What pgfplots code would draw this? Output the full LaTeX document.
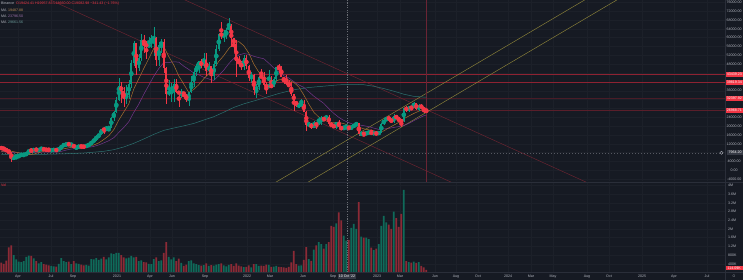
\documentclass[border=0pt]{standalone}
\usepackage{fontspec}
\setmainfont{Liberation Sans}
\usepackage{pgfplots}
\pgfplotsset{compat=1.18}
\usepackage{pgfplotstable}
\definecolor{bg}{HTML}{161A23}
\definecolor{gridc}{HTML}{1C2029}
\definecolor{sep}{HTML}{2A2E39}
\definecolor{txt}{HTML}{B2B5BE}
\definecolor{upc}{HTML}{089981}
\definecolor{dnc}{HTML}{F23645}
\definecolor{vup}{HTML}{0F6B5A}
\definecolor{vdn}{HTML}{8C2A36}
\definecolor{maO}{HTML}{A8702E}
\definecolor{maP}{HTML}{74358A}
\definecolor{maT}{HTML}{2B716F}
\definecolor{hred}{HTML}{8E2232}
\definecolor{hband}{HTML}{4A1C27}
\definecolor{hdark}{HTML}{5A1E2A}
\definecolor{tred}{HTML}{6E2431}
\definecolor{yel}{HTML}{8E853A}
\definecolor{vline}{HTML}{6A2434}
\definecolor{lblred}{HTML}{F23645}
\definecolor{lblgray}{HTML}{363A45}

% w open high low close volume(K)  -- price in thousands USDT
\pgfplotstableread[row sep=\\]{
w o h l c v\\
5 5.36 6.90 4.44 5.82 800\\ 6 5.82 6.98 5.70 5.88 600\\ 7 5.88 7.30 5.85 6.78 500\\
8 6.78 7.47 6.65 7.10 480\\ 9 7.10 7.30 6.47 7.12 520\\ 10 7.12 7.78 6.80 7.70 720\\
11 7.70 9.47 7.65 8.90 780\\ 13 8.72 9.95 8.10 9.68 650\\ 15 8.90 9.74 8.63 9.45 420\\
16 9.45 10.43 9.20 9.66 480\\ 20 9.01 9.30 8.90 9.07 300\\ 21 9.07 9.46 9.05 9.23 280\\
23 9.16 10.00 9.04 9.70 400\\ 24 9.70 11.40 9.40 11.10 660\\ 25 11.10 11.90 10.90 11.69 520\\
26 11.69 12.08 11.15 11.85 480\\ 28 11.64 11.80 11.10 11.70 380\\ 30 10.25 10.58 9.88 10.32 420\\
31 10.32 11.18 10.20 11.08 400\\ 34 10.66 11.50 10.53 11.37 350\\ 35 11.37 11.72 11.22 11.50 320\\
36 11.50 13.35 11.41 13.03 620\\ 37 13.03 14.10 12.79 13.80 600\\ 38 13.80 15.96 13.20 15.48 660\\
39 15.48 16.48 14.80 16.00 580\\ 40 16.00 18.80 15.80 18.70 640\\ 42 18.18 19.90 18.00 19.15 600\\
43 19.15 19.42 17.60 19.28 700\\ 44 19.28 24.30 19.00 23.75 880\\ 45 23.75 26.80 22.40 26.48 850\\
46 26.48 33.30 26.00 32.00 900\\ 47 32.00 41.95 31.50 38.15 900\\ 50 32.28 38.55 29.90 34.27 650\\
51 34.27 40.95 32.30 39.25 680\\ 52 39.25 49.70 37.40 48.58 760\\ 53 48.58 58.35 47.00 57.40 700\\
55 46.10 52.65 45.00 50.97 520\\ 56 50.97 61.80 49.30 59.00 560\\ 59 55.80 60.20 55.60 57.00 400\\
60 57.00 61.20 55.50 59.70 380\\ 61 59.70 64.85 51.50 60.00 620\\ 63 50.10 57.90 47.10 56.60 520\\
64 56.60 59.60 53.00 58.25 560\\ 67 34.70 40.85 33.40 35.60 720\\ 68 35.60 39.45 31.10 35.80 600\\
69 35.80 41.30 31.00 39.00 700\\ 72 34.70 36.65 32.70 35.30 440\\ 75 31.78 35.40 29.30 35.40 520\\
76 35.40 42.60 35.20 39.85 560\\ 77 39.85 44.80 37.60 44.40 420\\ 78 44.40 48.10 42.80 47.00 380\\
79 47.00 49.40 43.90 49.30 340\\ 81 47.10 52.90 46.50 49.90 340\\ 83 45.00 48.85 43.30 47.30 300\\
85 42.70 49.30 40.70 48.20 320\\ 86 48.20 56.60 47.00 54.95 360\\ 87 54.95 62.00 53.80 61.50 380\\
89 61.30 63.70 58.00 61.30 330\\ 90 61.30 64.30 59.40 63.30 280\\ 91 63.30 69.00 62.30 65.50 350\\
97 46.70 52.00 45.60 50.80 250\\ 100 41.80 44.50 39.60 43.10 240\\ 102 36.30 38.90 32.90 37.90 380\\
103 37.90 42.70 36.20 42.40 300\\ 107 37.70 45.40 37.50 38.40 350\\ 109 37.80 42.30 37.60 41.30 270\\
110 41.30 46.90 40.50 46.80 300\\ 119 29.45 30.60 28.00 29.45 320\\ 120 29.45 32.40 29.30 29.90 330\\
123 20.55 21.90 19.60 21.00 620\\ 125 19.30 22.50 19.00 20.85 1050\\ 127 20.80 24.30 20.70 22.60 1400\\
128 22.60 24.70 20.70 23.30 1300\\ 130 23.20 25.20 22.70 24.30 1300\\ 134 19.80 21.80 18.50 21.80 2260\\
137 18.80 20.20 18.50 19.30 1700\\ 138 19.30 20.50 19.10 19.40 1460\\ 140 19.05 19.70 18.90 19.57 2050\\
141 19.57 21.00 19.25 20.60 2230\\ 142 20.60 21.50 20.00 21.30 2000\\ 144 16.30 17.20 16.00 16.70 1650\\
146 16.45 17.40 16.00 17.10 1600\\ 147 17.10 17.40 16.70 17.10 1540\\ 149 16.75 17.00 16.50 16.85 1030\\
151 16.55 17.20 16.50 17.10 1300\\ 152 17.10 21.20 17.10 20.90 2140\\ 153 20.90 23.40 20.40 22.70 2600\\
154 22.70 23.80 22.30 23.75 2300\\ 157 21.80 25.25 21.35 24.60 2800\\ 161 22.15 28.40 21.90 28.00 3800\\
163 27.50 29.20 26.50 28.45 480\\ 165 28.30 31.00 28.20 30.30 500\\ 167 27.60 30.00 26.95 29.25 480\\
}\upt

\pgfplotstableread[row sep=\\]{
w o h l c v\\
0 10.15 10.50 9.70 9.90 450\\ 1 9.90 10.25 9.30 9.66 400\\ 2 9.66 9.96 8.40 8.53 550\\
3 8.53 9.19 8.00 8.03 1150\\ 4 8.03 8.18 3.80 5.36 1250\\ 12 8.90 10.00 8.13 8.72 760\\
14 9.68 9.90 8.80 8.90 520\\ 17 9.66 9.98 9.22 9.34 380\\ 18 9.34 9.59 8.90 9.30 360\\
19 9.30 9.79 8.93 9.01 330\\ 22 9.23 9.32 9.00 9.16 270\\ 27 11.85 12.47 11.33 11.64 500\\
29 11.70 12.09 9.80 10.25 520\\ 32 11.08 11.10 10.14 10.72 360\\ 33 10.72 10.95 10.37 10.66 330\\
41 18.70 19.48 16.20 18.18 720\\ 48 38.15 40.10 30.40 35.80 800\\ 49 35.80 37.85 28.80 32.28 700\\
54 57.40 57.50 43.00 46.10 720\\ 57 59.00 61.20 53.30 57.35 480\\ 58 57.35 58.40 50.30 55.80 460\\
62 60.00 60.40 47.00 50.10 700\\ 65 58.25 59.50 43.80 46.40 900\\ 66 46.40 46.60 30.00 34.70 1400\\
70 39.00 41.30 34.80 35.60 520\\ 71 35.60 36.10 28.80 34.70 640\\ 73 35.30 35.40 32.70 34.25 300\\
74 34.25 34.60 31.00 31.78 360\\ 80 49.30 50.50 46.30 47.10 320\\ 82 49.90 52.90 42.80 45.00 420\\
84 47.30 47.40 39.60 42.70 340\\ 88 61.50 67.00 59.60 61.30 420\\ 92 65.50 66.30 55.60 59.70 380\\
93 59.70 59.80 53.50 57.20 300\\ 94 57.20 59.10 42.00 49.40 420\\ 95 49.40 51.90 47.00 48.40 320\\
96 48.40 49.50 45.50 46.70 280\\ 98 50.80 52.10 45.70 47.30 260\\ 99 47.30 47.60 40.50 41.80 330\\
101 43.10 43.50 34.00 36.30 380\\ 104 42.40 45.85 41.70 42.20 320\\ 105 42.20 44.70 38.00 38.40 300\\
106 38.40 39.80 34.30 37.70 360\\ 108 38.40 42.60 37.20 37.80 260\\ 111 46.80 48.20 44.20 46.40 260\\
112 46.40 47.30 42.10 42.15 250\\ 113 42.15 42.40 39.20 40.40 240\\ 114 40.40 42.90 38.60 39.45 210\\
115 39.45 40.80 37.60 37.65 260\\ 116 37.65 39.90 33.70 34.30 460\\ 117 34.30 34.50 26.70 31.30 990\\
118 31.30 31.30 28.60 29.45 380\\ 121 29.90 31.70 26.60 26.60 580\\ 122 26.60 26.90 17.60 20.55 1170\\
124 21.00 21.50 18.60 19.30 540\\ 126 20.85 21.60 18.90 20.80 1250\\ 129 23.30 23.65 22.40 23.20 1100\\
131 24.30 25.10 20.80 21.15 1400\\ 132 21.15 21.80 19.50 20.05 2140\\ 133 20.05 20.60 19.60 19.80 2100\\
135 21.80 22.80 19.30 19.40 2770\\ 136 19.40 19.95 18.10 18.80 2400\\ 139 19.40 19.95 18.20 19.05 1500\\
143 21.30 21.45 15.60 16.30 3240\\ 145 16.70 16.80 15.50 16.45 1600\\ 148 17.10 18.40 16.50 16.75 1140\\
150 16.85 16.95 16.30 16.55 1100\\ 155 23.75 24.25 22.50 23.30 2200\\ 156 23.30 23.40 21.40 21.80 2000\\
158 24.60 25.00 23.10 23.55 2500\\ 159 23.55 23.90 21.90 22.40 2100\\ 160 22.40 22.60 19.55 22.15 2700\\
162 28.00 28.90 26.60 27.50 520\\ 164 28.45 28.80 27.20 28.30 450\\ 166 30.30 30.50 27.10 27.60 440\\
168 29.25 29.80 27.70 28.45 300\\ 169 28.45 28.60 25.80 26.90 230\\ 170 26.90 27.65 26.50 26.75 115\\
}\dnt

\newcommand{\fs}{\fontsize{3.6}{4}\selectfont}

\begin{document}
\begin{tikzpicture}
\useasboundingbox (0pt,0pt) rectangle (743pt,280pt);
\fill[bg] (0pt,0pt) rectangle (743pt,280pt);

% ---------------- price panel ----------------
\begin{axis}[
  at={(0pt,280pt)}, anchor=north west, scale only axis,
  width=725pt, height=181.5pt,
  xmin=-0.52, xmax=289.48, ymin=-5.07, ymax=77.06,
  axis line style={draw=none}, tick style={draw=none},
  xtick={6.7,19.9,28.7,46.3,59.5,68.3,81.5,98.3,107.5,120.7,132.7,150.3,159.5,173.5,181.9,190.7,202.7,211.9,220.7,234.3,243.1,256.3,269.1,282.3},
  ytick={-4,0,4,...,76},
  xticklabels={}, yticklabels={},
  grid=major, major grid style={draw=gridc, line width=0.4pt},
  clip mode=individual,
]
% horizontal levels
\addplot[hband, line width=1.5pt] coordinates {(-1,32.40) (290,32.40)};
\addplot[hred, line width=0.4pt] coordinates {(-1,43.44) (290,43.44)};
\addplot[hred, line width=0.4pt] coordinates {(-1,39.82) (290,39.82)};
\addplot[hdark, line width=0.4pt] coordinates {(-1,26.97) (290,26.97)};
\addplot[sep!80!white, line width=0.4pt, dash pattern=on 1.5pt off 1.5pt] coordinates {(-1,7.96) (290,7.96)};
% trend lines
\addplot[tred, line width=0.45pt] coordinates {(59.48,84.25) (255.48,-16.43)};
\addplot[tred, line width=0.45pt] coordinates {(15.48,79.2) (191.48,-11.3)};
\addplot[yel, line width=0.45pt] coordinates {(105.48,-8.28) (239.48,81.18)};
\addplot[yel, line width=0.45pt] coordinates {(119.48,-7.51) (255.48,83.26)};
% vertical markers
\addplot[sep!70!white, line width=0.4pt, dash pattern=on 1.2pt off 1.2pt] coordinates {(138.3,-6) (138.3,78)};
\addplot[vline, line width=0.4pt] coordinates {(169.8,-6) (169.8,78)};
% moving averages
\addplot[maT, line width=0.5pt] coordinates {(0,7.2)(1,7.21)(9,7.10)(17,7.22)(25,7.45)(33,7.81)(41,8.59)(45,9.33)(49,10.57)(53,12.21)(57,14.17)(61,16.26)(65,18.07)(69,19.13)(73,20.11)(77,21.20)(81,22.74)(85,24.23)(89,26.29)(93,28.45)(97,30.07)(101,31.37)(105,32.70)(111,34.75)(117,36.44)(123,37.46)(129,38.07)(135,38.68)(141,38.90)(145,38.72)(149,38.02)(153,36.99)(157,35.79)(161,34.43)(165,33.46)(169,33.13)(170,33.1)};
\addplot[maP, line width=0.5pt] coordinates {(0,8.45)(1,8.41)(5,8.05)(9,7.69)(13,8.05)(17,8.22)(19,8.24)(21,8.18)(23,8.29)(25,8.87)(27,9.42)(29,9.80)(31,10.04)(33,10.19)(35,10.42)(37,10.81)(39,11.47)(41,12.40)(43,13.38)(45,14.75)(47,17.08)(49,19.39)(51,21.99)(53,26.22)(55,29.93)(57,34.41)(59,38.47)(61,42.62)(63,46.03)(65,48.75)(67,48.76)(69,49.09)(71,48.93)(73,47.11)(75,45.62)(77,44.01)(79,43.19)(81,42.05)(83,41.33)(85,40.64)(87,42.95)(89,45.34)(91,48.27)(93,50.63)(95,52.17)(97,52.83)(99,52.47)(101,51.59)(103,50.99)(105,50.47)(107,48.46)(109,46.28)(111,44.50)(113,42.78)(115,41.75)(117,40.15)(119,38.64)(121,37.50)(123,35.56)(125,33.54)(127,31.90)(129,30.27)(131,27.89)(133,25.75)(135,23.96)(137,22.58)(139,21.56)(141,20.74)(143,20.54)(145,20.19)(147,19.73)(149,19.09)(151,18.50)(153,18.69)(155,18.98)(157,19.39)(159,19.77)(161,20.27)(163,21.19)(165,22.46)(167,23.59)(169,24.68)(170,25.0)};
\addplot[maO, line width=0.5pt] coordinates {(0,8.6)(1,8.64)(3,8.85)(5,8.41)(7,7.94)(9,7.42)(11,7.12)(13,7.31)(15,8.02)(17,8.66)(19,9.07)(21,9.24)(23,9.28)(25,9.73)(27,10.18)(29,10.54)(31,10.85)(33,11.10)(35,11.11)(37,11.44)(39,12.40)(41,13.94)(43,15.65)(45,18.39)(47,22.72)(49,26.38)(51,30.04)(53,36.80)(55,41.48)(57,46.10)(59,50.57)(61,55.19)(63,55.26)(65,56.02)(67,51.42)(69,47.62)(71,42.68)(73,38.96)(75,35.21)(77,36.61)(79,38.76)(81,41.43)(83,43.70)(85,46.08)(87,49.30)(89,51.93)(91,55.11)(93,57.57)(95,58.26)(97,56.36)(99,53.01)(101,48.07)(103,44.41)(105,42.69)(107,40.55)(109,39.55)(111,40.93)(113,41.16)(115,40.81)(117,39.76)(119,37.74)(121,34.07)(123,29.97)(125,26.27)(127,24.05)(129,22.81)(131,21.71)(133,21.54)(135,21.64)(137,21.11)(139,20.31)(141,19.78)(143,19.55)(145,18.75)(147,18.36)(149,17.87)(151,17.22)(153,17.82)(155,19.21)(157,20.43)(159,21.67)(161,23.32)(163,24.55)(165,25.72)(167,26.75)(169,27.69)(170,27.6)};
% candles: wicks
\addplot[color=upc, only marks, mark=none, forget plot,
  error bars/.cd, y dir=both, y explicit, error mark=none, error bar style={line width=0.45pt}]
  table[x=w, y expr={(\thisrow{h}+\thisrow{l})/2}, y error expr={(\thisrow{h}-\thisrow{l})/2}] {\upt};
\addplot[color=dnc, only marks, mark=none, forget plot,
  error bars/.cd, y dir=both, y explicit, error mark=none, error bar style={line width=0.45pt}]
  table[x=w, y expr={(\thisrow{h}+\thisrow{l})/2}, y error expr={(\thisrow{h}-\thisrow{l})/2}] {\dnt};
% candles: bodies
\addplot[color=upc, only marks, mark=none, forget plot,
  error bars/.cd, y dir=both, y explicit, error mark=none, error bar style={line width=1.7pt}]
  table[x=w, y expr={(\thisrow{o}+\thisrow{c})/2}, y error expr={max(abs(\thisrow{c}-\thisrow{o})/2,0.15)}] {\upt};
\addplot[color=dnc, only marks, mark=none, forget plot,
  error bars/.cd, y dir=both, y explicit, error mark=none, error bar style={line width=1.7pt}]
  table[x=w, y expr={(\thisrow{o}+\thisrow{c})/2}, y error expr={max(abs(\thisrow{c}-\thisrow{o})/2,0.15)}] {\dnt};
\end{axis}

% ---------------- volume panel ----------------
\begin{axis}[
  at={(0pt,97.8pt)}, anchor=north west, scale only axis,
  width=725pt, height=90.3pt,
  xmin=-0.52, xmax=289.48, ymin=0, ymax=4152,
  axis line style={draw=none}, tick style={draw=none},
  xtick={6.7,19.9,28.7,46.3,59.5,68.3,81.5,98.3,107.5,120.7,132.7,150.3,159.5,173.5,181.9,190.7,202.7,211.9,220.7,234.3,243.1,256.3,269.1,282.3},
  ytick={400,800,...,4000},
  xticklabels={}, yticklabels={},
  grid=major, major grid style={draw=gridc, line width=0.4pt},
]
\addplot[ybar, bar width=1.75pt, fill=vup, draw=none] table[x=w, y=v] {\upt};
\addplot[ybar, bar width=1.75pt, fill=vdn, draw=none] table[x=w, y=v] {\dnt};
\addplot[sep!70!white, line width=0.4pt, dash pattern=on 1.2pt off 1.2pt] coordinates {(138.3,0) (138.3,4200)};
\end{axis}

% ---------------- frames ----------------
\draw[sep, line width=0.5pt] (0pt,98.1pt) -- (743pt,98.1pt);
\draw[sep, line width=0.5pt] (0pt,7.5pt) -- (743pt,7.5pt);
\draw[sep, line width=0.5pt] (725.3pt,0pt) -- (725.3pt,280pt);

% price scale labels
\foreach \v/\t in {76/76000.00,72/72000.00,68/68000.00,64/64000.00,60/60000.00,56/56000.00,52/52000.00,48/48000.00,36/36000.00,24/24000.00,20/20000.00,16/16000.00,12/12000.00,4/4000.00,0/0.00,-4/-4000.00}
  \node[font=\fs, text=txt, inner sep=0] at (734.2pt,{(109.7+2.21*\v)*1pt}) {\t};
% level boxes
\foreach \v/\t in {43.44/43439.23,39.82/39819.34,32.40/32397.92,26.97/26968.71}
  \node[font=\fs, text=white, fill=lblred, inner sep=0.6pt, minimum width=17.5pt, minimum height=4.8pt] at (734.3pt,{(109.7+2.21*\v)*1pt}) {\t};
\node[font=\fs, text=white, fill=lblgray, inner sep=0.6pt, minimum width=16pt, minimum height=4.8pt] at (735pt,127.3pt) {7964.20};
\draw[txt, line width=0.35pt] (721.5pt,127.3pt) circle (1.6pt);

% volume labels
\foreach \y/\t in {185.5/4M,194.2/3.6M,202.9/3.2M,211.6/2.8M,220.3/2.4M,229.0/2M,237.7/1.6M,246.4/1.2M,255.1/800K,263.8/400K}
  \node[font=\fs, text=txt, inner sep=0, anchor=west] at (728pt,{(280-\y)*1pt}) {\t};
\node[font=\fs, text=white, fill=lblred, inner sep=0.6pt, minimum width=17.5pt, minimum height=4.8pt] at (734.3pt,12pt) {114.09K};
\node[font=\fs, text=dnc, inner sep=0, anchor=west] at (1pt,95pt) {Vol};

% time labels
\foreach \x/\t in {18/Apr,51/Jul,73/Sep,117/2021,150/Apr,172/Jun,205/Sep,247/2022,270/Mar,303/Jun,333/Sep,377/2023,400/Mar,435/Jun,456/Aug,478/Oct,508/2024,531/Mar,553/May,587/Aug,609/Oct,642/2025,674/Apr,707/Jul}
  \node[font=\fs, text=txt, inner sep=0] at (\x pt,3.7pt) {\t};
\node[font=\fs, text=white, fill=lblgray, inner sep=0.8pt, minimum height=5pt] at (347pt,3.7pt) {10 Oct '22};
\node[font=\fs, text=txt, inner sep=0] at (734pt,3.7pt) {$\circ$};

% legend
\node[font=\fs, anchor=west, inner sep=0] at (1pt,276pt) {\textcolor{txt}{Binance}\hspace{2pt}\textcolor{dnc}{O19424.41 H19957.83 L18660.00 C19082.98 −341.43 (−1.76\%)}};
\node[font=\fs, anchor=west, inner sep=0] at (1pt,270pt) {\textcolor{txt}{MA}\hspace{1.5pt}\textcolor{maO!80!white}{19487.88}};
\node[font=\fs, anchor=west, inner sep=0] at (1pt,264pt) {\textcolor{txt}{MA}\hspace{1.5pt}\textcolor{maP!70!white}{23796.50}};
\node[font=\fs, anchor=west, inner sep=0] at (1pt,258pt) {\textcolor{txt}{MA}\hspace{1.5pt}\textcolor{maT!70!white}{29661.56}};
\end{tikzpicture}
\end{document}
